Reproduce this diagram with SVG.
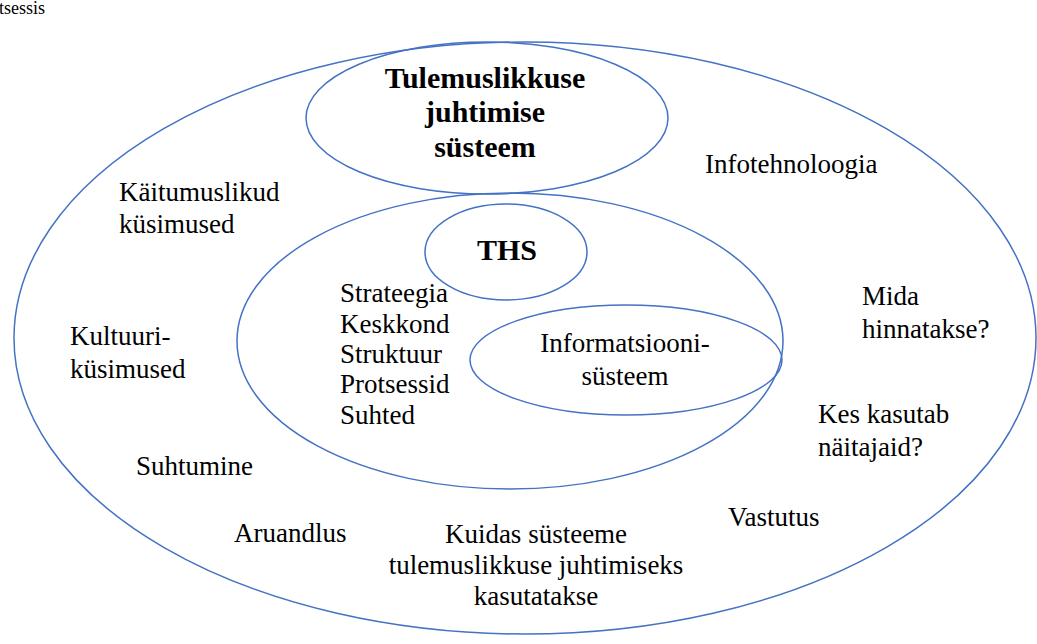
<svg xmlns="http://www.w3.org/2000/svg" width="1037" height="644" viewBox="0 0 1037 644">
<style>
.e{fill:none;stroke:#4472C4;stroke-width:1.5}
text{font-family:"Liberation Serif","Times New Roman",Tinos,"Noto Serif","DejaVu Serif",FreeSerif,serif;fill:#000}
.t{font-size:27px}
.b{font-size:30px;font-weight:bold}
.c{text-anchor:middle}
</style>
<rect width="1037" height="644" fill="#fff"/>
<text x="-1" y="14" font-size="18">tsessis</text>
<g id="outer"><ellipse class="e" cx="525" cy="338" rx="511" ry="296"/>
<text class="t" x="705" y="173">Infotehnoloogia</text>
<text class="t" x="119" y="201">Käitumuslikud</text>
<text class="t" x="119" y="233">küsimused</text>
<text class="t" x="70" y="345">Kultuuri-</text>
<text class="t" x="70" y="378">küsimused</text>
<text class="t" x="136" y="475">Suhtumine</text>
<text class="t" x="234" y="542">Aruandlus</text>
<text class="t c" x="536" y="543">Kuidas süsteeme</text>
<text class="t c" x="536" y="574">tulemuslikkuse juhtimiseks</text>
<text class="t c" x="536" y="605">kasutatakse</text>
<text class="t" x="728" y="526">Vastutus</text>
<text class="t" x="818" y="423">Kes kasutab</text>
<text class="t" x="818" y="456">näitajaid?</text>
<text class="t" x="862" y="305">Mida</text>
<text class="t" x="862" y="338">hinnatakse?</text>
</g>
<g id="tjs"><ellipse class="e" cx="487" cy="118" rx="181" ry="76"/>
<text class="b c" x="485" y="88">Tulemuslikkuse</text>
<text class="b c" x="485" y="122">juhtimise</text>
<text class="b c" x="485" y="157">süsteem</text>
</g>
<g id="middle"><ellipse class="e" cx="510" cy="341" rx="273" ry="148"/>
<text class="t" x="340" y="302">Strateegia</text>
<text class="t" x="340" y="333">Keskkond</text>
<text class="t" x="340" y="363">Struktuur</text>
<text class="t" x="340" y="393">Protsessid</text>
<text class="t" x="340" y="424">Suhted</text>
</g>
<g id="ths"><ellipse class="e" cx="506" cy="252" rx="81" ry="48"/>
<text class="b c" x="507" y="260">THS</text>
</g>
<g id="info"><ellipse class="e" cx="626" cy="360" rx="156" ry="55"/>
<text class="t c" x="625" y="352">Informatsiooni-</text>
<text class="t c" x="625" y="385">süsteem</text>
</g>
<g id="connectors"/>
</svg>
